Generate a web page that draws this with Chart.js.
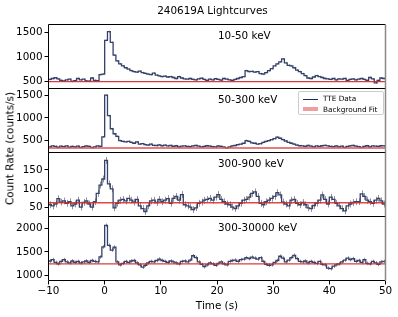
<!DOCTYPE html>
<html><head><meta charset="utf-8">
<script src="https://cdn.jsdelivr.net/npm/chart.js@4/dist/chart.umd.min.js"></script>
<style>
body{margin:0;width:398px;height:317px;background:#fff;position:relative;overflow:hidden;font-family:'DejaVu Sans',sans-serif;}
canvas{position:absolute;left:0;}
.t{position:absolute;font-size:10.4px;color:#000;white-space:nowrap;line-height:1;}
#ylab{writing-mode:vertical-rl;transform:rotate(180deg);}
#legend{position:absolute;left:298px;top:91px;width:84px;height:22px;border:1px solid #ccc;border-radius:2px;background:rgba(255,255,255,0.85);font-size:7.3px;}
</style></head><body>
<script>
// ---- data ----
const title = "240619A Lightcurves";
const bandLabels = ["10-50 keV", "50-300 keV", "300-900 keV", "300-30000 keV"];
const tStart = -10, tEnd = 50, binWidth = 0.5;
const rate_10_50 = [
 540,560,575,550,520,510,530,545,500,515,
 560,530,545,510,505,570,520,515,640,650,
 1340,1520,1300,1040,920,860,820,780,750,720,
 700,690,710,680,665,650,640,670,630,615,
 600,610,590,600,580,560,600,570,550,545,
 560,540,530,550,565,540,520,545,530,555,
 540,525,560,545,530,520,540,560,580,600,
 720,700,705,690,700,660,650,680,720,760,
 820,860,900,960,880,830,820,780,730,700,
 660,620,570,560,590,620,600,580,560,550,
 540,560,530,550,545,560,520,540,550,530,
 545,560,540,520,580,550,470,520,570,560];
const rate_50_300 = [
 360,380,370,350,375,365,380,355,370,360,
 375,350,365,380,370,345,360,380,370,580,
 1500,1050,760,650,590,500,480,470,480,460,
 440,470,420,430,410,400,420,395,390,405,
 385,400,380,390,370,385,360,375,380,370,
 365,380,390,375,360,370,385,375,365,360,
 380,370,355,340,360,380,390,410,420,440,
 500,480,450,440,420,430,460,480,500,520,
 540,575,550,520,490,460,440,420,400,385,
 380,370,390,375,360,380,370,385,395,380,
 370,365,380,360,375,350,370,380,390,375,
 365,350,370,385,360,380,375,370,385,380];
const rate_300_900 = [
 58,55,60,74,65,68,62,66,55,60,
 70,52,64,68,60,52,66,88,110,126,
 175,113,100,50,62,70,72,68,75,70,
 65,72,55,48,40,55,68,70,64,72,
 66,70,74,62,75,80,70,85,58,55,
 52,45,50,62,65,70,72,75,70,78,
 85,72,66,60,58,52,48,55,62,70,
 72,78,88,92,80,62,58,66,70,75,
 80,90,84,65,60,55,70,72,62,58,
 64,58,50,48,56,62,70,84,72,60,
 78,72,62,55,48,42,55,60,64,66,
 66,87,80,70,66,62,70,75,68,60];
const rate_300_30000 = [
 1310,1340,1280,1250,1300,1340,1290,1270,1310,1280,
 1300,1270,1290,1310,1280,1320,1300,1290,1395,1605,
 2060,1640,1540,1600,1290,1230,1260,1300,1280,1310,
 1320,1270,1230,1180,1220,1270,1300,1290,1320,1350,
 1320,1300,1280,1310,1290,1270,1250,1300,1310,1290,
 1330,1420,1380,1290,1240,1190,1230,1270,1250,1220,
 1260,1290,1250,1230,1300,1320,1330,1300,1340,1350,
 1380,1360,1390,1370,1350,1380,1300,1240,1220,1230,
 1280,1320,1410,1370,1290,1330,1380,1430,1360,1300,
 1290,1310,1270,1300,1280,1260,1300,1240,1230,1160,
 1150,1200,1230,1250,1290,1330,1370,1340,1360,1300,
 1320,1280,1340,1260,1250,1300,1270,1240,1290,1300];
const backgroundLevels = [495, 335, 63, 1250];
const rateErrors = [18, 20, 9, 38];
const yMins = [355, 236, 27, 900];
const yMaxs = [1665, 1648, 196, 2245];
const yTicks1 = [500, 1000, 1500];
const yTicks2 = [500, 1000, 1500];
const yTicks3 = [50, 100, 150];
const yTicks4 = [1000, 1500, 2000];
const xTicks = [-10, 0, 10, 20, 30, 40, 50];
const legendLabels = ["TTE Data", "Background Fit"];

const rates = [rate_10_50, rate_50_300, rate_300_900, rate_300_30000];
const yTicks = [yTicks1, yTicks2, yTicks3, yTicks4];

// ---- layout ----
const panelTops = [24, 88, 152, 216];
const bgLineColors = ['rgba(214,39,40,0.9)', 'rgba(222,80,80,0.75)', 'rgba(214,39,40,0.85)', 'rgba(214,39,40,0.9)'];
const bgLineWidths = [1.2, 2, 1.5, 1.2];
Chart.defaults.font.family = "'DejaVu Sans', sans-serif";
Chart.defaults.font.size = 10.4;
Chart.defaults.color = '#000';

const frame = {
  id: 'frame',
  afterDraw(chart) {
    const {ctx, chartArea: a} = chart;
    ctx.save();
    ctx.strokeStyle = '#000';
    ctx.lineWidth = 1;
    ctx.beginPath();
    ctx.moveTo(a.right, a.top); ctx.lineTo(a.left, a.top); ctx.lineTo(a.left, a.bottom); ctx.lineTo(a.right, a.bottom);
    ctx.stroke();
    ctx.strokeStyle = '#888';
    ctx.lineWidth = 1.5;
    ctx.beginPath(); ctx.moveTo(a.right, a.top); ctx.lineTo(a.right, a.bottom); ctx.stroke();
    ctx.restore();
  }
};
const errBars = {
  id: 'errBars',
  beforeDatasetsDraw(chart, args, opts) {
    const {ctx, chartArea: a, scales} = chart;
    const vals = opts.values, err = opts.err;
    ctx.save();
    ctx.beginPath(); ctx.rect(a.left, a.top, a.right - a.left, a.bottom - a.top); ctx.clip();
    ctx.strokeStyle = 'rgba(110,110,120,0.75)';
    ctx.lineWidth = 1;
    ctx.beginPath();
    vals.forEach((v, i) => {
      const xc = scales.x.getPixelForValue(tStart + (i + 0.5) * binWidth);
      ctx.moveTo(Math.round(xc) + 0.5, scales.y.getPixelForValue(v - err));
      ctx.lineTo(Math.round(xc) + 0.5, scales.y.getPixelForValue(v + err));
    });
    ctx.stroke();
    ctx.restore();
  }
};

for (let p = 0; p < 4; p++) {
  const last = p === 3;
  const cv = document.createElement('canvas');
  const h = last ? 102 : 66;
  cv.width = 398; cv.height = h;
  cv.style.top = (panelTops[p] - 1) + 'px';
  cv.style.width = '398px'; cv.style.height = h + 'px';
  document.body.appendChild(cv);
  const pts = rates[p].map((v, i) => ({x: tStart + i * binWidth, y: v}));
  pts.push({x: tEnd, y: rates[p][rates[p].length - 1]});
  const xScale = {type: 'linear', min: tStart, max: tEnd, display: last,
            afterBuildTicks: s => { s.ticks = xTicks.map(v => ({value: v})); },
            afterFit: s => { if (last) s.height = 36.5; s.paddingLeft = 0; s.paddingRight = 0; },
            grid: {drawOnChartArea: false, drawTicks: true, tickLength: 4, color: '#000'},
            border: {display: false},
            ticks: {padding: 1, maxRotation: 0, autoSkip: false,
                    callback: v => v < 0 ? '\u2212' + Math.abs(v) : String(v)}};
  new Chart(cv, {
    type: 'line',
    data: {datasets: [
      {data: [{x: tStart, y: backgroundLevels[p]}, {x: tEnd, y: backgroundLevels[p]}],
       borderColor: bgLineColors[p], borderWidth: bgLineWidths[p], pointRadius: 0},
      {data: pts, stepped: 'before', borderColor: '#34416a', borderWidth: 1.3, pointRadius: 0}
    ]},
    options: {
      responsive: false, animation: false, devicePixelRatio: 1,
      events: [],
      layout: {padding: {top: 1.5, bottom: last ? 0 : 0.5, left: 0, right: 12.5}},
      plugins: {legend: {display: false}, tooltip: {enabled: false},
                errBars: {values: rates[p], err: rateErrors[p]}},
      scales: {
        x: xScale,
        y: {type: 'linear', min: yMins[p], max: yMaxs[p],
            afterBuildTicks: s => { s.ticks = yTicks[p].map(v => ({value: v})); },
            afterFit: s => { s.width = 48.5; s.paddingTop = 0; s.paddingBottom = 0; },
            grid: {drawOnChartArea: false, drawTicks: true, tickLength: 4, color: '#000'},
            border: {display: false},
            ticks: {padding: 2, callback: v => String(v)}}
      }
    },
    plugins: [errBars, frame]
  });
  const lab = document.createElement('div');
  lab.className = 't';
  lab.textContent = bandLabels[p];
  lab.style.left = '218px';
  lab.style.top = (panelTops[p] + 6) + 'px';
  document.body.appendChild(lab);
}

function addText(txt, css) {
  const d = document.createElement('div');
  d.className = 't'; d.textContent = txt;
  Object.assign(d.style, css);
  document.body.appendChild(d);
  return d;
}
addText(title, {left: '212.5px', top: '5px', transform: 'translateX(-50%)'});
const yl = addText("Count Rate (counts/s)", {left: '4px', top: '92px'});
yl.id = 'ylab';
addText("Time (s)", {left: '217px', top: '300px', transform: 'translateX(-50%)'});

const lg = document.createElement('div');
lg.id = 'legend';
lg.innerHTML =
  '<div style="position:absolute;left:4px;top:6.5px;width:15px;height:1.3px;background:#1f2a5c"></div>' +
  '<div style="position:absolute;left:24px;top:3px;line-height:1;">' + legendLabels[0] + '</div>' +
  '<div style="position:absolute;left:4px;top:15px;width:15px;height:4px;background:rgba(214,39,40,0.45)"></div>' +
  '<div style="position:absolute;left:24px;top:13.5px;line-height:1;">' + legendLabels[1] + '</div>';
document.body.appendChild(lg);
</script>
</body></html>
